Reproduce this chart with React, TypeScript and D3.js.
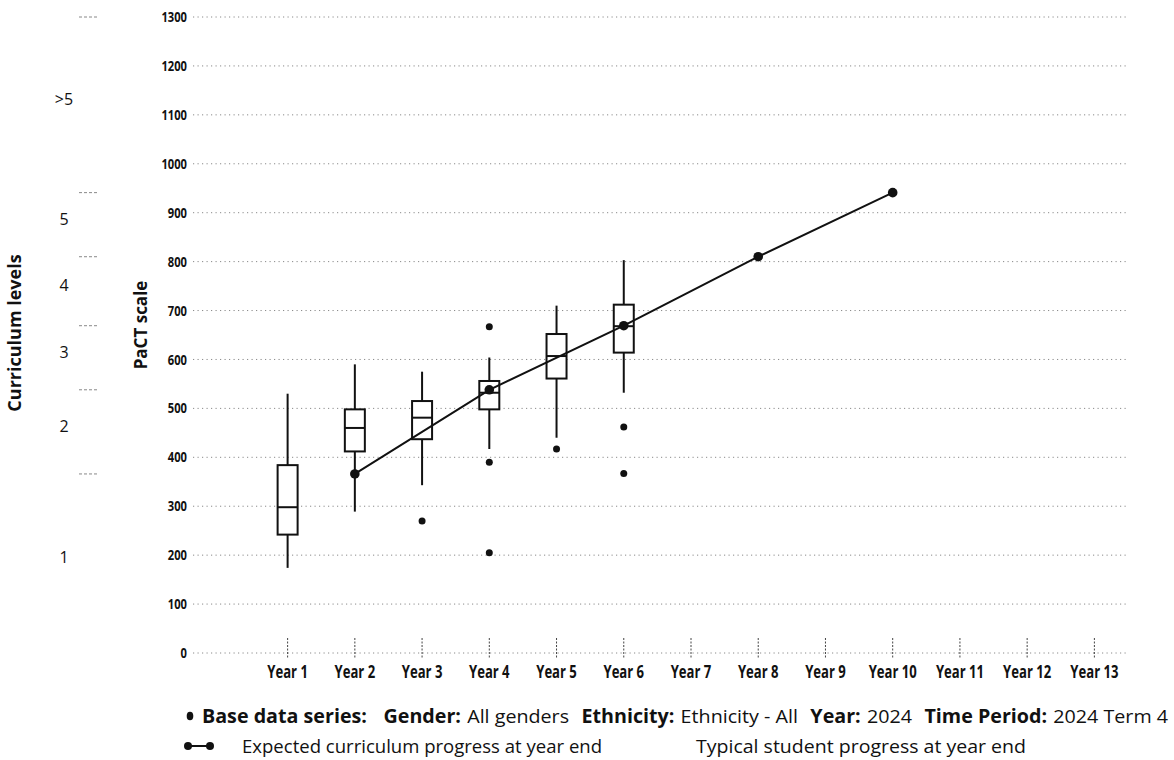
import * as d3 from 'd3';
import React from 'react';

// categories
const years = ['Year 1', 'Year 2', 'Year 3', 'Year 4', 'Year 5', 'Year 6', 'Year 7',
  'Year 8', 'Year 9', 'Year 10', 'Year 11', 'Year 12', 'Year 13'];
const yTicks = [0, 100, 200, 300, 400, 500, 600, 700, 800, 900, 1000, 1100, 1200, 1300];

// box plot series (PaCT scale)
const boxYears = ['Year 1', 'Year 2', 'Year 3', 'Year 4', 'Year 5', 'Year 6'];
const whiskerLow = [174, 289, 343, 417, 440, 532];
const q1 = [242, 412, 437, 498, 561, 614];
const median = [298, 460, 481, 532, 607, 668];
const q3 = [384, 498, 515, 556, 652, 712];
const whiskerHigh = [530, 590, 575, 604, 710, 803];

// outliers
const outlierYears = ['Year 3', 'Year 4', 'Year 4', 'Year 4', 'Year 5', 'Year 6', 'Year 6'];
const outlierValues = [270, 667, 390, 205, 417, 462, 367];

// expected curriculum progress at year end
const expectedYears = ['Year 2', 'Year 4', 'Year 6', 'Year 8', 'Year 10'];
const expectedValues = [366, 538, 669, 810, 941];

// curriculum levels on the left
const curriculumLevels = ['1', '2', '3', '4', '5', '>5'];
const curriculumBounds = [0, 366, 538, 669, 810, 941, 1300];

const W = 1174;
const H = 760;
const ink = '#111';

export default function App() {
  const x = d3.scaleBand().domain(years).range([254, 1128]);
  const y = d3.scaleLinear().domain([0, 1300]).range([653, 17]);
  const cx = (yr: string) => (x(yr) as number) + x.bandwidth() / 2;
  const boxW = 20;

  const line = d3.line<number>()
    .x((d, i) => cx(expectedYears[i]))
    .y(d => y(d));

  return (
    <svg width={W} height={H} style={{ position: 'absolute', left: 0, top: 0, background: '#fff' }}
      fontFamily="'Open Sans', sans-serif">
      {/* gridlines */}
      {yTicks.map(t => (
        <line key={'g' + t} x1={193} x2={1128} y1={y(t)} y2={y(t)}
          stroke="#8a8a8a" strokeWidth={1} strokeDasharray="1.2 3.3" />
      ))}
      {/* y tick labels */}
      {yTicks.map(t => (
        <g key={'t' + t} transform={`translate(187,${y(t)}) scale(0.8,1)`}>
          <text textAnchor="end" dy="0.36em" fontSize={14} fontWeight="bold" fill={ink}>{t}</text>
        </g>
      ))}
      {/* x ticks and labels */}
      {years.map(yr => (
        <g key={yr}>
          <line x1={cx(yr)} x2={cx(yr)} y1={638} y2={659} stroke="#444" strokeWidth={1} strokeDasharray="2 1.5" />
          <g transform={`translate(${cx(yr)},678) scale(0.77,1)`}>
            <text textAnchor="middle" fontSize={17} fontWeight="bold" fill={ink}>{yr}</text>
          </g>
        </g>
      ))}

      {/* curriculum levels */}
      {curriculumBounds.slice(1).map(b => (
        <line key={'cb' + b} x1={79} x2={97} y1={y(b)} y2={y(b)} stroke="#888" strokeWidth={1} strokeDasharray="3 2" />
      ))}
      {curriculumLevels.map((lv, i) => (
        <text key={'cl' + lv} x={64} y={y((curriculumBounds[i] + curriculumBounds[i + 1]) / 2)}
          textAnchor="middle" fontSize={16} fill={ink}>{lv}</text>
      ))}
      <text transform="translate(21,333) rotate(-90)" textAnchor="middle" fontSize={18} fontWeight="bold" fill={ink}>Curriculum levels</text>
      <text transform="translate(147,325) rotate(-90)" textAnchor="middle" fontSize={17} fontWeight="bold" fill={ink}>PaCT scale</text>

      {/* box plots */}
      {boxYears.map((yr, i) => (
        <g key={'b' + yr}>
          <line x1={cx(yr)} x2={cx(yr)} y1={y(whiskerLow[i])} y2={y(whiskerHigh[i])} stroke={ink} strokeWidth={2} />
          <rect x={cx(yr) - boxW / 2} width={boxW} y={y(q3[i])} height={y(q1[i]) - y(q3[i])}
            fill="#fff" stroke={ink} strokeWidth={2} />
          <line x1={cx(yr) - boxW / 2} x2={cx(yr) + boxW / 2} y1={y(median[i])} y2={y(median[i])} stroke={ink} strokeWidth={2} />
        </g>
      ))}
      {outlierValues.map((v, i) => (
        <circle key={'o' + i} cx={cx(outlierYears[i])} cy={y(v)} r={3.5} fill={ink} />
      ))}

      {/* expected progress */}
      <path d={line(expectedValues) as string} fill="none" stroke={ink} strokeWidth={2} />
      {expectedValues.map((v, i) => (
        <circle key={'e' + i} cx={cx(expectedYears[i])} cy={y(v)} r={4.8} fill={ink} />
      ))}

      {/* legend */}
      <ellipse cx={190} cy={716} rx={3.3} ry={4.3} fill={ink} />
      <text x={202} y={723} fontSize={19} fill={ink} textLength={966} lengthAdjust="spacingAndGlyphs">
        <tspan fontWeight="bold">Base data series:</tspan>
        <tspan dx={16} fontWeight="bold">Gender:</tspan>
        <tspan dx={6}>All genders</tspan>
        <tspan dx={12} fontWeight="bold">Ethnicity:</tspan>
        <tspan dx={6}>Ethnicity - All</tspan>
        <tspan dx={12} fontWeight="bold">Year:</tspan>
        <tspan dx={6}>2024</tspan>
        <tspan dx={12} fontWeight="bold">Time Period:</tspan>
        <tspan dx={6}>2024 Term 4</tspan>
      </text>
      <line x1={188} x2={210} y1={746} y2={746} stroke={ink} strokeWidth={2} />
      <circle cx={188} cy={746} r={4} fill={ink} />
      <circle cx={210} cy={746} r={4} fill={ink} />
      <text x={242} y={753} fontSize={19} fill={ink} textLength={360} lengthAdjust="spacingAndGlyphs">Expected curriculum progress at year end</text>
      <text x={696} y={753} fontSize={19} fill={ink} textLength={330} lengthAdjust="spacingAndGlyphs">Typical student progress at year end</text>
    </svg>
  );
}
